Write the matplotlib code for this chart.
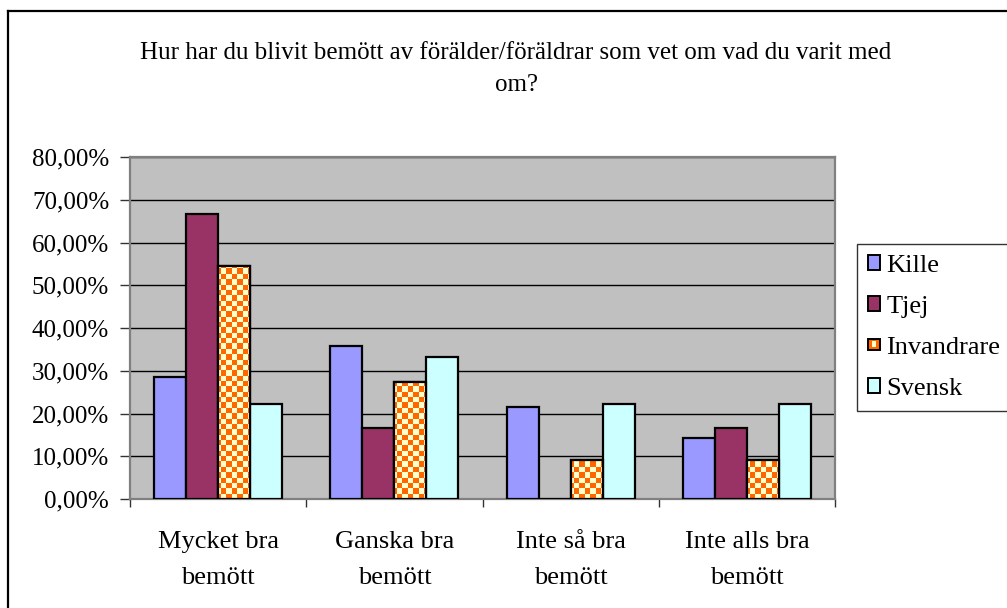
import numpy as np
import matplotlib
matplotlib.use("Agg")
import matplotlib.pyplot as plt
from matplotlib.colors import ListedColormap
from matplotlib.patches import Rectangle
from matplotlib.lines import Line2D
from matplotlib.legend_handler import HandlerBase

categories = ["Mycket bra\nbemött", "Ganska bra\nbemött", "Inte så bra\nbemött", "Inte alls bra\nbemött"]
series_names = ["Kille", "Tjej", "Invandrare", "Svensk"]
kille = [28.57, 35.71, 21.43, 14.29]
tjej = [66.67, 16.67, 0.0, 16.67]
invandrare = [54.55, 27.27, 9.09, 9.09]
svensk = [22.22, 33.33, 22.22, 22.22]
yticks = [0, 10, 20, 30, 40, 50, 60, 70, 80]
ytick_labels = ["0,00%", "10,00%", "20,00%", "30,00%", "40,00%", "50,00%", "60,00%", "70,00%", "80,00%"]
title = "Hur har du blivit bemött av förälder/föräldrar som vet om vad du varit med\nom?"

colors = {"Kille": "#9999FF", "Tjej": "#993366", "Invandrare": "#FF6600", "Svensk": "#CCFFFF"}
ORANGE = "#FF6600"
LIGHT = "#FFFFCC"

FONT = "Liberation Serif"
plt.rcParams["font.family"] = [FONT, "DejaVu Serif"]

W, H = 1007, 608
fig = plt.figure(figsize=(W / 100, H / 100), dpi=100)

# outer frame (top and left edges visible)
fig.add_artist(Line2D([8 / W, 1.0], [1 - 11 / H, 1 - 11 / H], transform=fig.transFigure, color="black", lw=1.6))
fig.add_artist(Line2D([8 / W, 8 / W], [1 - 11 / H, 0.0], transform=fig.transFigure, color="black", lw=1.6))

ax = fig.add_axes([130 / W, 1 - 499 / H, 705 / W, 342 / H])
ax.set_facecolor("#C0C0C0")

n = len(series_names)
bw = 1.0 / (n + 1.5)
x = np.arange(len(categories))
data = [kille, tjej, invandrare, svensk]

for j, (name, vals) in enumerate(zip(series_names, data)):
    pos = x + (j - (n - 1) / 2) * bw
    if name == "Invandrare":
        bars = ax.bar(pos, vals, width=bw, color=LIGHT, edgecolor="black", linewidth=1.6, zorder=3)
        # checkerboard fill
        ncol, nrow = 132, 64
        cb = (np.add.outer(np.arange(nrow), np.arange(ncol)) % 2)
        cmap = ListedColormap([LIGHT, ORANGE])
        for b in bars:
            im = ax.imshow(cb, cmap=cmap, extent=(0, 1, 0, 1), transform=ax.transAxes,
                           interpolation="nearest", aspect="auto", zorder=3.2)
            im.set_clip_path(b)
        ax.bar(pos, vals, width=bw, fill=False, edgecolor="black", linewidth=1.6, zorder=3.5)
    else:
        ax.bar(pos, vals, width=bw, color=colors[name], edgecolor="black", linewidth=1.6, zorder=3)

ax.set_xlim(-0.5, len(categories) - 0.5)
ax.set_ylim(0, 80)
ax.set_yticks(yticks)
ax.set_yticklabels(ytick_labels, fontsize=18, family=FONT)
ax.yaxis.grid(True, color="black", linewidth=1.0, zorder=1)
ax.set_axisbelow(True)

ax.set_xticks(x)
ax.set_xticklabels(categories, fontsize=19, family=FONT, linespacing=1.85)
ax.set_xticks(np.arange(-0.5, len(categories), 1.0), minor=True)
ax.tick_params(axis="x", which="major", length=0, pad=23)
ax.tick_params(axis="x", which="minor", length=6, width=1.0, color="#333333", direction="out")
ax.tick_params(axis="y", length=7, width=1.0, color="#333333", direction="out", pad=8)

for s in ax.spines.values():
    s.set_color("#808080")
    s.set_linewidth(1.6)

fig.text(516 / W, 1 - 69 / H, title, ha="center", va="center", fontsize=18, family=FONT, linespacing=1.6)


class CheckerHandler(HandlerBase):
    def create_artists(self, legend, orig_handle, xdescent, ydescent, width, height, fontsize, trans):
        s = min(width, height)
        x0 = -xdescent + (width - s) / 2
        y0 = -ydescent + (height - s) / 2
        arts = [Rectangle((x0, y0), s, s, facecolor=ORANGE, edgecolor="none", transform=trans)]
        arts.append(Rectangle((x0 + s * 0.3, y0 + s * 0.3), s * 0.4, s * 0.5, facecolor=LIGHT,
                              edgecolor="none", transform=trans))
        arts.append(Rectangle((x0, y0), s, s, facecolor="none", edgecolor="black", lw=1.4, transform=trans))
        return arts


handles = []
hmap = {}
for name in series_names:
    if name == "Invandrare":
        h = Rectangle((0, 0), 1, 1, facecolor=ORANGE, edgecolor="black")
        hmap[h] = CheckerHandler()
    else:
        h = Rectangle((0, 0), 1, 1, facecolor=colors[name], edgecolor="black", lw=1.4)
    handles.append(h)

leg = fig.legend(handles, series_names, loc="lower left", mode="expand",
                 bbox_to_anchor=(857 / W, 1 - 411 / H, 200 / W, 167 / H),
                 prop={"family": FONT, "size": 19}, frameon=True, fancybox=False,
                 edgecolor="black", handlelength=0.45, handleheight=0.45, handletextpad=0.25,
                 labelspacing=0.72, borderpad=0.42, borderaxespad=0, handler_map=hmap)
leg.get_frame().set_linewidth(1.0)

fig.savefig("out.png", dpi=100)
